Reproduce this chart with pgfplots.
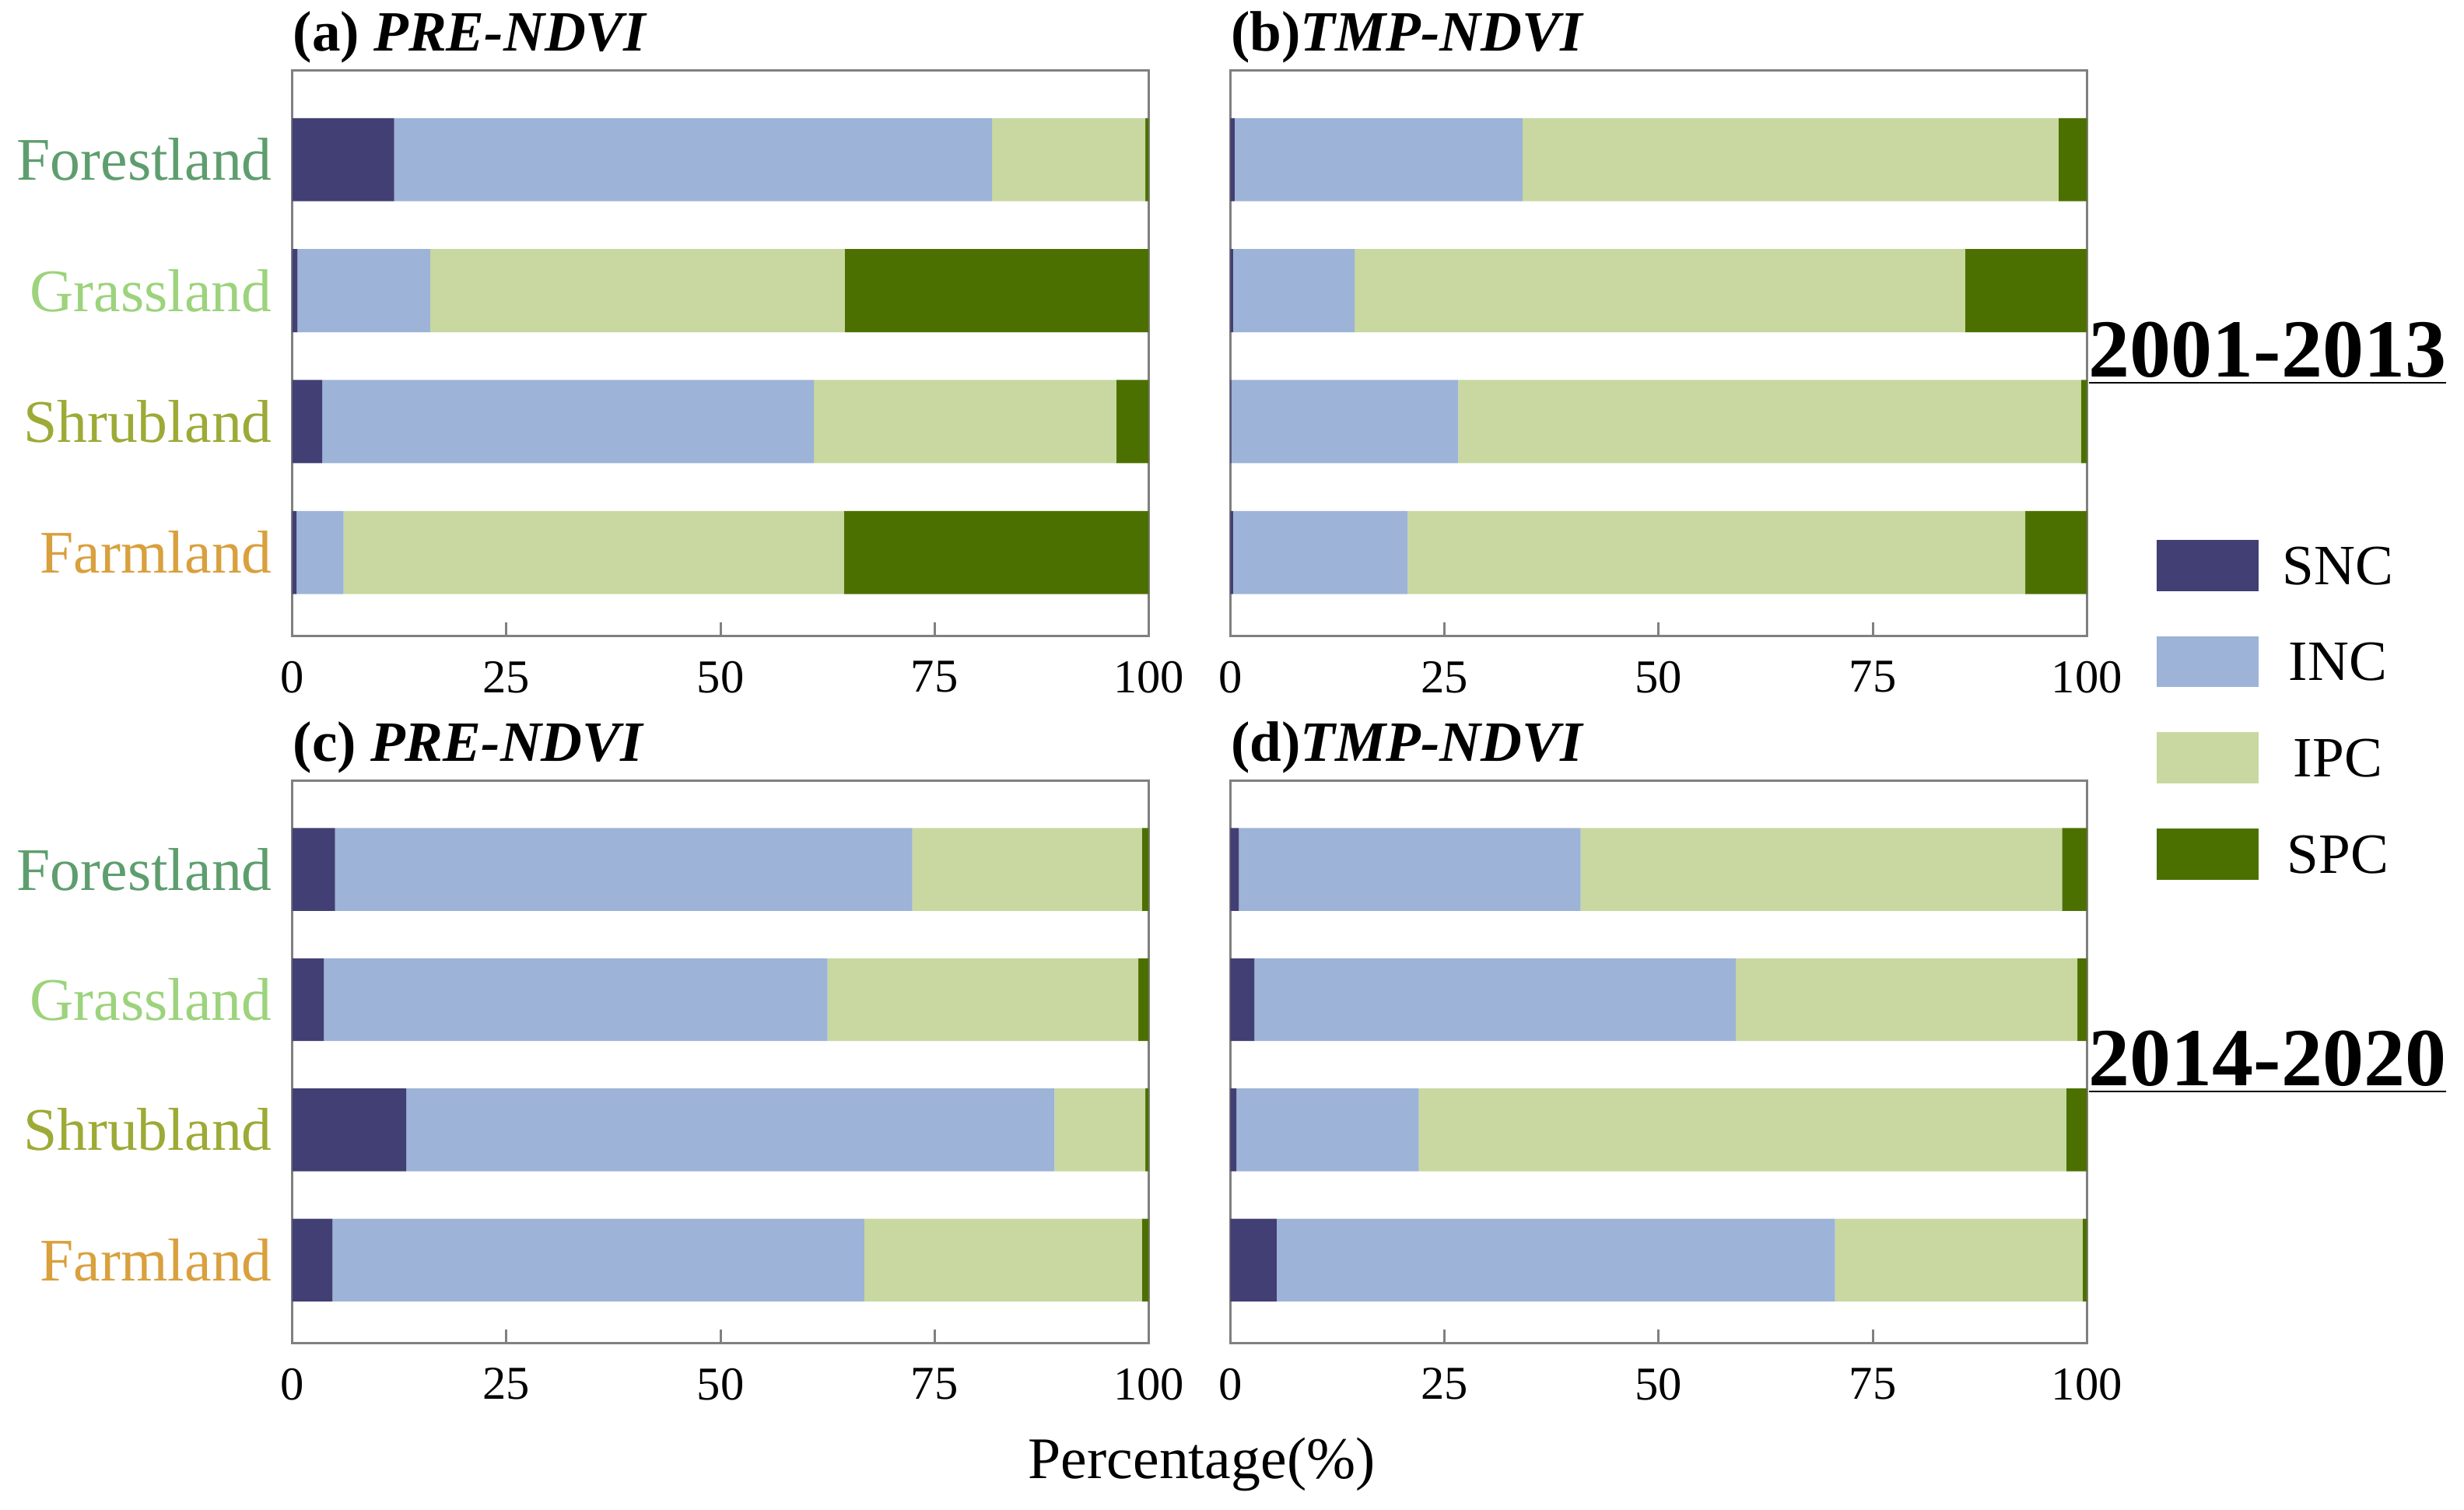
\documentclass[border=0pt]{standalone}
\usepackage{pgfplots}
\pgfplotsset{compat=1.18}
\usepackage{pgfplotstable}
\usepackage{fontspec}
\setmainfont{Liberation Serif}

\definecolor{snc}{HTML}{413F73}
\definecolor{inc}{HTML}{9DB3D7}
\definecolor{ipc}{HTML}{C8D8A0}
\definecolor{spc}{HTML}{4C7000}
\definecolor{forest}{HTML}{5E9E6E}
\definecolor{grass}{HTML}{9CD37C}
\definecolor{shrub}{HTML}{9DAA36}
\definecolor{farm}{HTML}{D9A03E}
\definecolor{frame}{HTML}{808080}

% y: 4 Forestland, 3 Grassland, 2 Shrubland, 1 Farmland
\pgfplotstableread{
y SNC INC IPC SPC
4 11.9 69.8 17.9 0.4
3 0.6 15.5 48.4 35.5
2 3.5 57.4 35.3 3.8
1 0.5 5.5 58.4 35.6
}\tabA
\pgfplotstableread{
y SNC INC IPC SPC
4 0.5 33.6 62.6 3.3
3 0.3 14.2 71.3 14.2
2 0.1 26.5 72.7 0.7
1 0.3 20.4 72.1 7.2
}\tabB
\pgfplotstableread{
y SNC INC IPC SPC
4 5.0 67.4 26.8 0.8
3 3.7 58.8 36.3 1.2
2 13.3 75.7 10.6 0.4
1 4.7 62.1 32.4 0.8
}\tabC
\pgfplotstableread{
y SNC INC IPC SPC
4 1.0 39.9 56.2 2.9
3 2.8 56.2 39.9 1.1
2 0.7 21.3 75.6 2.4
1 5.4 65.2 28.9 0.5
}\tabD

\pgfplotsset{
  panel/.style={
    xbar stacked,
    bar width=0.635,
    scale only axis,
    width=218pt, height=144pt,
    anchor=south west,
    xmin=0, xmax=100,
    ymin=0.36, ymax=4.68,
    xtick={0,25,50,75,100},
    xtick pos=bottom,
    tick align=inside,
    major tick length=3.6pt,
    ytick={1,2,3,4},
    ytick style={draw=none},
    xtick style={draw=frame, line width=0.6pt},
    axis line style={draw=frame, line width=0.6pt},
    tick label style={font=\fontsize{12}{14}\selectfont},
    xticklabel style={yshift=-2.8pt},
    /pgf/number format/assume math mode=true,
    yticklabel style={font=\fontsize{15.4}{18}\selectfont, xshift=-1.6pt},
    clip=false,
  },
  catlabels/.style={
    yticklabels={\color{farm}Farmland, \color{shrub}Shrubland,
      \color{grass}Grassland, \color{forest}Forestland},
  },
  nolabels/.style={yticklabels={}},
}

\newcommand{\bars}[1]{%
  \addplot[fill=snc, draw=none] table[x=SNC, y=y] {#1};
  \addplot[fill=inc, draw=none] table[x=INC, y=y] {#1};
  \addplot[fill=ipc, draw=none] table[x=IPC, y=y] {#1};
  \addplot[fill=spc, draw=none] table[x=SPC, y=y] {#1};
}

\begin{document}
\begin{tikzpicture}
\useasboundingbox (0,0) rectangle (627.2pt,384.4pt);

% (a)
\begin{axis}[panel, catlabels, at={(74.4pt,222.4pt)}]
  \bars{\tabA}
  \node[anchor=base west, inner sep=0pt, font=\fontsize{14.5}{17}\selectfont]
    at (rel axis cs:0,1) [yshift=5pt] {\textbf{(a)} \textbf{\textit{PRE-NDVI}}};
\end{axis}

% (b)
\begin{axis}[panel, nolabels, at={(313.2pt,222.4pt)},
    legend entries={SNC,INC,IPC,SPC},
    legend image code/.code={\fill[#1] (0pt,-5.7pt) rectangle (26pt,7.3pt);},
    legend style={at={(1.0807,0.172)}, anchor=north west, draw=none, fill=none,
      font=\fontsize{14.5}{17}\selectfont, row sep=11.5pt, column sep=6pt,
      inner sep=0pt, nodes={inner sep=0pt}},
  ]
  \bars{\tabB}
  \node[anchor=base west, inner sep=0pt, font=\fontsize{14.5}{17}\selectfont]
    at (rel axis cs:0,1) [yshift=5pt] {\textbf{(b)}\textbf{\textit{TMP-NDVI}}};
  \node[font=\fontsize{21}{24}\selectfont\bfseries]
    at (rel axis cs:1.211,0.5) {\underline{2001-2013}};
\end{axis}

% (c)
\begin{axis}[panel, catlabels, at={(74.4pt,42.4pt)}, height=143.2pt]
  \bars{\tabC}
  \node[anchor=base west, inner sep=0pt, font=\fontsize{14.5}{17}\selectfont]
    at (rel axis cs:0,1) [yshift=5pt] {\textbf{(c)} \textbf{\textit{PRE-NDVI}}};
  \node[font=\fontsize{15}{18}\selectfont]
    at (rel axis cs:1.062,-0.215) {Percentage(\%)};
\end{axis}

% (d)
\begin{axis}[panel, nolabels, at={(313.2pt,42.4pt)}, height=143.2pt]
  \bars{\tabD}
  \node[anchor=base west, inner sep=0pt, font=\fontsize{14.5}{17}\selectfont]
    at (rel axis cs:0,1) [yshift=5pt] {\textbf{(d)}\textbf{\textit{TMP-NDVI}}};
  \node[font=\fontsize{21}{24}\selectfont\bfseries]
    at (rel axis cs:1.211,0.5) {\underline{2014-2020}};
\end{axis}
\end{tikzpicture}
\end{document}
